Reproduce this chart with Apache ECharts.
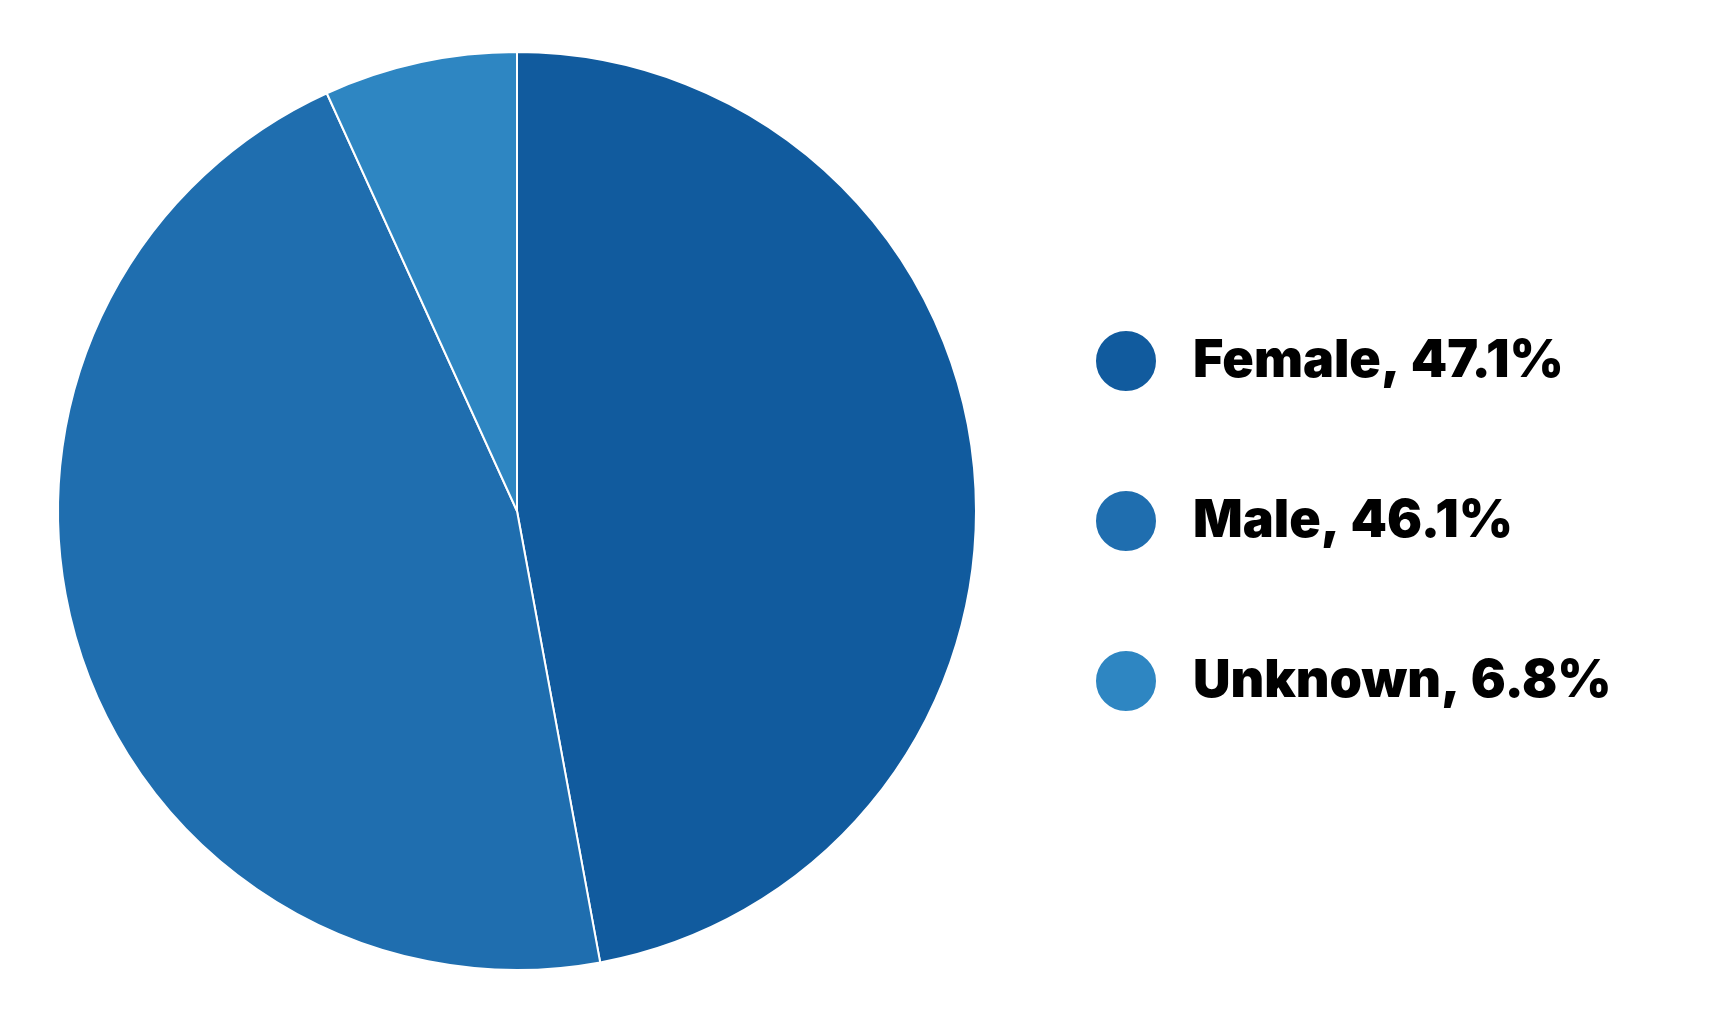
<!DOCTYPE html>
<html>
<head>
<meta charset="utf-8">
<script src="https://cdn.jsdelivr.net/npm/echarts@6/dist/echarts.min.js"></script>
<style>html,body{margin:0;padding:0;background:#fff;}#c{width:1709px;height:1025px;}</style>
</head>
<body>
<div id="c"></div>
<script>
const categories = ['Female', 'Male', 'Unknown'];
const values = [47.1, 46.1, 6.8];
const colors = ['#115B9E', '#1F6EAF', '#2E86C2'];

const chart = echarts.init(document.getElementById('c'), null, {renderer: 'canvas'});
const data = categories.map((n, i) => ({name: n, value: values[i], itemStyle: {color: colors[i]}}));
chart.setOption({
  backgroundColor: '#ffffff',
  animation: false,
  legend: {
    orient: 'vertical',
    left: 1089,
    top: 324,
    icon: 'circle',
    itemWidth: 62,
    itemHeight: 62,
    itemGap: 96,
    selectedMode: false,
    formatter: function (name) {
      const i = categories.indexOf(name);
      return name + ', ' + values[i] + '%';
    },
    textStyle: {
      fontFamily: 'Inter',
      fontWeight: 900,
      fontSize: 52,
      color: '#000000',
      padding: [0, 0, 0, 31]
    },
    data: categories
  },
  series: [{
    type: 'pie',
    center: [517, 511],
    radius: [0, 459],
    startAngle: 90,
    clockwise: true,
    label: {show: false},
    labelLine: {show: false},
    itemStyle: {borderColor: '#ffffff', borderWidth: 2},
    emphasis: {disabled: true},
    data: data
  }]
});
</script>
</body>
</html>
